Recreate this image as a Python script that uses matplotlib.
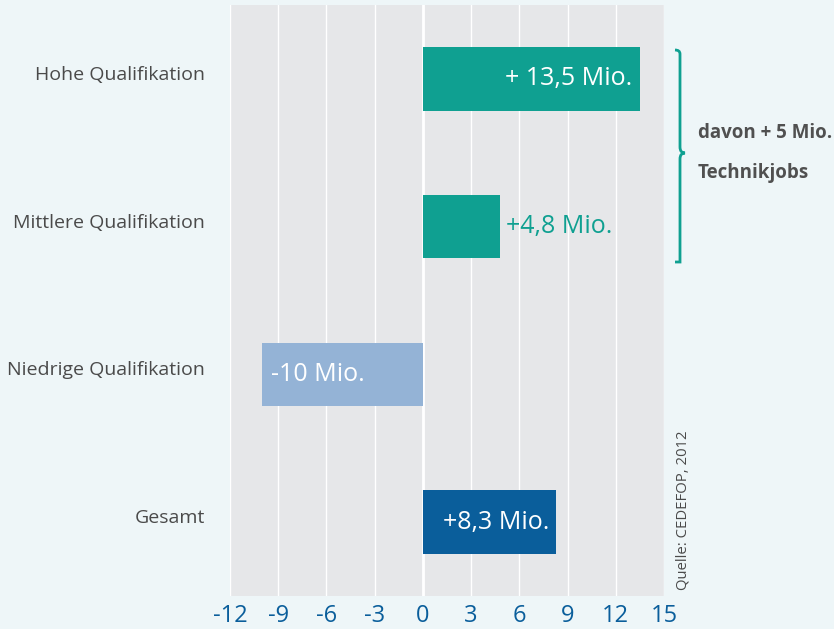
import matplotlib
matplotlib.use("Agg")
import matplotlib.pyplot as plt
from matplotlib.path import Path
from matplotlib.patches import PathPatch
from matplotlib.transforms import offset_copy

categories = ["Hohe Qualifikation", "Mittlere Qualifikation", "Niedrige Qualifikation", "Gesamt"]
values = [13.5, 4.8, -10.0, 8.3]
bar_labels = ["+ 13,5 Mio.", "+4,8 Mio.", "-10 Mio.", "+8,3 Mio."]
label_inside = [True, False, True, True]
bar_colors = ["#0fa091", "#0fa091", "#94b3d6", "#0a5e9b"]
xticks = [-12, -9, -6, -3, 0, 3, 6, 9, 12, 15]
brace_text = ["davon + 5 Mio.", "Technikjobs"]
source = "Quelle: CEDEFOP, 2012"

plt.rcParams['font.family'] = ['Open Sans', 'DejaVu Sans']

W, H = 834, 629
fig = plt.figure(figsize=(W / 100, H / 100), dpi=100)
fig.patch.set_facecolor("#eef6f8")

ax = fig.add_axes([230 / W, 1 - 596 / H, (664 - 230) / W, (596 - 5) / H])
ax.set_facecolor("#e6e7e9")
for s in ax.spines.values():
    s.set_visible(False)

ypos = list(range(len(categories)))
ax.barh(ypos, values, height=0.43, color=bar_colors, zorder=3)

ax.set_xlim(-12, 15)
ax.set_ylim(len(categories) - 0.5, -0.5)
ax.set_xticks(xticks)
ax.set_xticklabels([str(t) for t in xticks], color="#0a5e9b", fontsize=17)
ax.set_yticks(ypos)
ax.set_yticklabels(categories, color="#4a4a4a", fontsize=14)
ax.tick_params(axis="both", length=0)
ax.tick_params(axis="x", pad=6)
ax.tick_params(axis="y", pad=18)
for lbl in ax.get_yticklabels():
    lbl.set_transform(offset_copy(lbl.get_transform(), fig=fig, x=0, y=6, units="dots"))
ax.set_axisbelow(True)
ax.xaxis.grid(True, color="white", linewidth=1.0)
ax.yaxis.grid(False)
ax.axvline(0, color="white", linewidth=2.0, zorder=1)

for y, v, lab, inside in zip(ypos, values, bar_labels, label_inside):
    if inside:
        if v >= 0:
            ax.text(v - 0.45, y, lab, ha="right", va="center", color="white",
                    fontsize=18, zorder=4)
        else:
            ax.text(v + 0.55, y, lab, ha="left", va="center", color="white",
                    fontsize=18, zorder=4)
    else:
        ax.text(v + 0.35, y, lab, ha="left", va="center", color="#0fa091",
                fontsize=18, zorder=4)

# curly brace (figure pixel coordinates converted to fraction)
def fx(px):
    return px / W

def fy(py):
    return 1 - py / H

top, mid, bot = 50, 153, 262
xl, xc, xt = 675, 680, 685
verts = [
    (fx(xl), fy(top)),
    (fx(xc), fy(top)), (fx(xc), fy(top + 4)),
    (fx(xc), fy(top + 8)),
    (fx(xc), fy(mid - 6)),
    (fx(xc), fy(mid)), (fx(xt), fy(mid)),
    (fx(xc), fy(mid)), (fx(xc), fy(mid + 6)),
    (fx(xc), fy(bot - 8)),
    (fx(xc), fy(bot - 4)), (fx(xc), fy(bot)),
    (fx(xl), fy(bot)),
]
codes = [Path.MOVETO,
         Path.CURVE3, Path.CURVE3,
         Path.LINETO,
         Path.LINETO,
         Path.CURVE3, Path.CURVE3,
         Path.CURVE3, Path.CURVE3,
         Path.LINETO,
         Path.CURVE3, Path.CURVE3,
         Path.LINETO]
brace = PathPatch(Path(verts, codes), transform=fig.transFigure, fill=False,
                  edgecolor="#0fa091", linewidth=2.0)
fig.patches.append(brace)

fig.text(fx(698), fy(133), brace_text[0], ha="left", va="center",
         color="#505050", fontsize=13.5, fontweight="bold")
fig.text(fx(698), fy(173), brace_text[1], ha="left", va="center",
         color="#505050", fontsize=13.5, fontweight="bold")

fig.text(fx(683), fy(590), source, rotation=90, ha="center", va="bottom",
         color="#4a4a4a", fontsize=10.7)

fig.savefig("out.png", dpi=100, facecolor=fig.get_facecolor())
